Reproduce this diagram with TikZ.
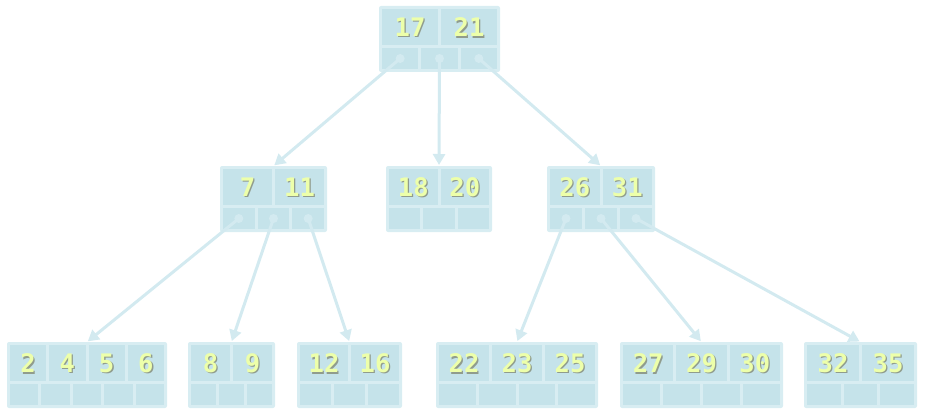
\documentclass[tikz,border=0pt]{standalone}
\usepackage{fontspec}
\newfontfamily\keyfont{DejaVu Sans Mono}
\usetikzlibrary{arrows.meta}
\definecolor{framec}{HTML}{D8EDF2}
\definecolor{cellc}{HTML}{C5E3EA}
\definecolor{connc}{HTML}{D3EAF0}
\definecolor{txtc}{HTML}{EDFFAA}
\definecolor{shadc}{HTML}{6E6E50}
\tikzset{
  framebox/.style={fill=framec, draw=none, inner sep=0pt, outer sep=0pt, rounded corners=2pt},
  cell/.style={fill=cellc},
  keytxt/.style={text=txtc, inner sep=0pt, font=\keyfont\bfseries\fontsize{25.5}{25.5}\selectfont},
  keyshadow/.style={text=shadc, text opacity=0.6, inner sep=0pt, font=\keyfont\bfseries\fontsize{25.5}{25.5}\selectfont},
  conn/.style={draw=connc, line width=3pt, -{Triangle[length=11pt,width=12pt]}, shorten >=1pt},
  dotc/.style={fill=connc}
}
\newcommand\bnode[6]{%
  \pgfmathsetmacro\bL{#2}\pgfmathsetmacro\bR{#3}\pgfmathsetmacro\bT{#4}%
  \pgfmathsetmacro\bW{\bR-\bL}%
  \node[framebox, minimum width=\bW pt, minimum height=66pt, anchor=north west] (#1) at (\bL,\bT) {};
  \pgfmathsetmacro\kw{(\bW-6-(#5-1)*3)/#5}%
  \foreach \k [count=\i] in {#6} {
    \pgfmathsetmacro\xa{\bL+3+(\i-1)*(\kw+3)}
    \pgfmathsetmacro\xc{\xa+\kw/2}
    \fill[cell] (\xa,\bT+3) rectangle ++(\kw,36);
    \node[keyshadow] at (\xc+1.3,\bT+22.6) {\k};
    \node[keytxt] at (\xc,\bT+21.2) {\k};
  }
  \pgfmathsetmacro\pw{(\bW-6-#5*3)/(#5+1)}%
  \pgfmathtruncatemacro\np{#5+1}%
  \foreach \i in {1,...,\np} {
    \pgfmathsetmacro\xa{\bL+3+(\i-1)*(\pw+3)}
    \fill[cell] (\xa,\bT+42) rectangle ++(\pw,21);
    \coordinate (#1-p\i) at (\xa+\pw/2,\bT+52.5);
  }
}
\begin{document}
\begin{tikzpicture}[x=1pt,y=-1pt]
\useasboundingbox (0,0) rectangle (926,409);
\bnode{r}{379}{500}{6}{2}{17,21}
\bnode{a}{220}{327}{166}{2}{7,11}
\bnode{b}{386}{492}{166}{2}{18,20}
\bnode{c}{547}{655}{166}{2}{26,31}
\bnode{d}{7}{167}{342}{4}{2,4,5,6}
\bnode{e}{188}{275}{342}{2}{8,9}
\bnode{f}{297}{402}{342}{2}{12,16}
\bnode{g}{436}{598}{342}{3}{22,23,25}
\bnode{h}{620}{783}{342}{3}{27,29,30}
\bnode{i}{804}{917}{342}{2}{32,35}
\foreach \s/\t in {r-p1/a, r-p2/b, r-p3/c, a-p1/d, a-p2/e, a-p3/f, c-p1/g, c-p2/h, c-p3/i} {
  \fill[dotc] (\s) circle (4.5pt);
  \draw[conn] (\s) -- (\t.north);
}
\end{tikzpicture}
\end{document}
